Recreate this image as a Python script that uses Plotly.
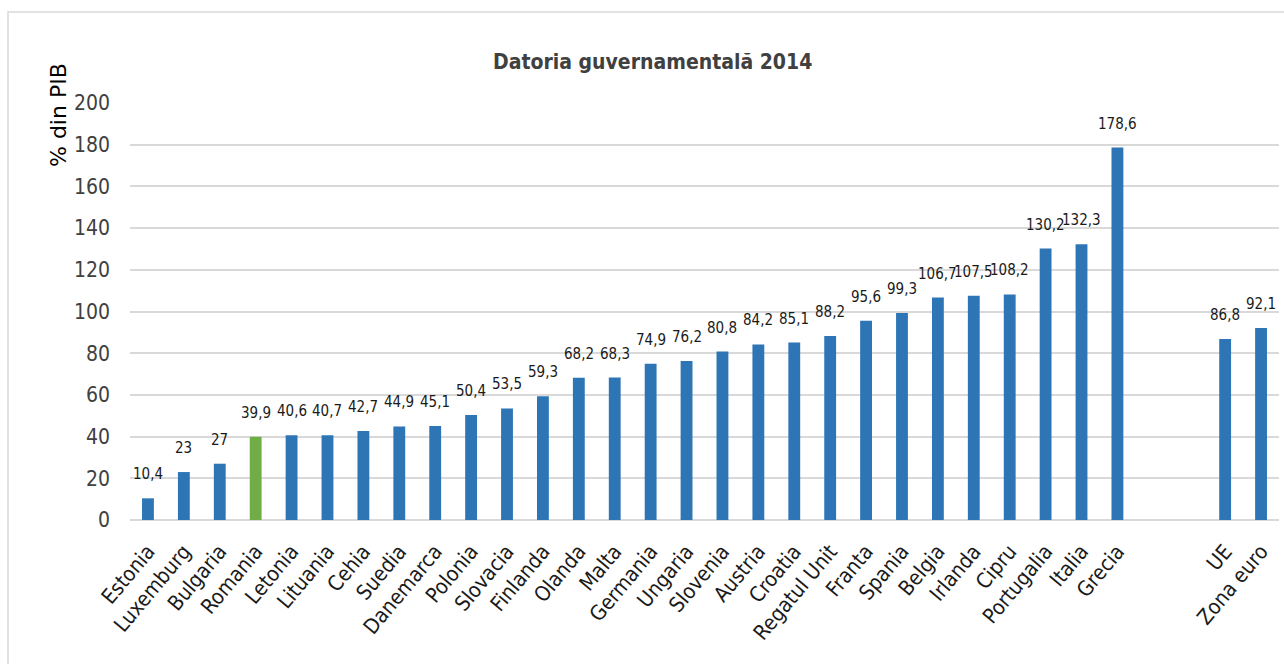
import plotly.graph_objects as go

countries = ["Estonia", "Luxemburg", "Bulgaria", "Romania", "Letonia", "Lituania", "Cehia",
             "Suedia", "Danemarca", "Polonia", "Slovacia", "Finlanda", "Olanda", "Malta",
             "Germania", "Ungaria", "Slovenia", "Austria", "Croatia", "Regatul Unit", "Franta",
             "Spania", "Belgia", "Irlanda", "Cipru", "Portugalia", "Italia", "Grecia",
             " ", "  ", "UE", "Zona euro"]
values = [10.4, 23, 27, 39.9, 40.6, 40.7, 42.7, 44.9, 45.1, 50.4, 53.5, 59.3, 68.2, 68.3,
          74.9, 76.2, 80.8, 84.2, 85.1, 88.2, 95.6, 99.3, 106.7, 107.5, 108.2, 130.2, 132.3,
          178.6, None, None, 86.8, 92.1]
highlight = "Romania"

BLUE = "#2e75b6"
GREEN = "#70ad47"
NARROW = "Liberation Sans Narrow, DejaVu Sans Condensed, Arial Narrow, sans-serif"

colors = [GREEN if c == highlight else BLUE for c in countries]

fig = go.Figure()
fig.add_trace(go.Bar(x=countries, y=values, marker=dict(color=colors, line=dict(width=0)),
                     width=0.33, hoverinfo="x+y"))

annotations = []
for c, v in zip(countries, values):
    if v is None:
        continue
    txt = (("%g" % v).replace(".", ","))
    annotations.append(dict(x=c, y=v, text=txt, showarrow=False, yshift=24,
                            xanchor="center", yanchor="middle",
                            font=dict(family=NARROW, size=15, color="#1a1a1a")))

annotations.append(dict(text="Datoria guvernamentală 2014", xref="paper", yref="paper",
                        x=(652 - 130) / 1149, y=(520 - 62) / 417, showarrow=False,
                        xanchor="center", yanchor="middle",
                        font=dict(family=NARROW, size=21, color="#404040", weight="bold")))
annotations.append(dict(text="% din PIB", xref="paper", yref="paper",
                        x=(58 - 130) / 1149, y=(520 - 115) / 417, showarrow=False,
                        textangle=-90, xanchor="center", yanchor="middle",
                        font=dict(family="DejaVu Sans", size=22, color="#000000")))

fig.update_layout(
    width=1284, height=664,
    margin=dict(l=130, r=5, t=103, b=144),
    paper_bgcolor="white", plot_bgcolor="white",
    showlegend=False,
    annotations=annotations,
    shapes=[dict(type="rect", xref="paper", yref="paper", x0=(8 - 130) / 1149, x1=1.2,
                 y0=-0.6, y1=(520 - 12) / 417, line=dict(color="#d9d9d9", width=1.5),
                 layer="below")],
)
fig.update_xaxes(type="category", categoryorder="array", categoryarray=countries,
                 tickangle=-50, showgrid=False, showline=False, ticks="",
                 ticklabelstandoff=14,
                 tickfont=dict(family=NARROW, size=21, color="#1a1a1a"))
fig.update_yaxes(range=[0, 200], dtick=20, showgrid=True, gridcolor="#d9d9d9", gridwidth=1.5,
                 zeroline=True, zerolinecolor="#d9d9d9", zerolinewidth=1.5,
                 showline=False, ticks="", ticklen=0, ticklabelstandoff=19,
                 tickfont=dict(family=NARROW, size=21, color="#404040"))

fig.write_html("out.html", config={"displayModeBar": False},
               post_script="document.body.style.margin='0';document.body.style.overflow='hidden';")
